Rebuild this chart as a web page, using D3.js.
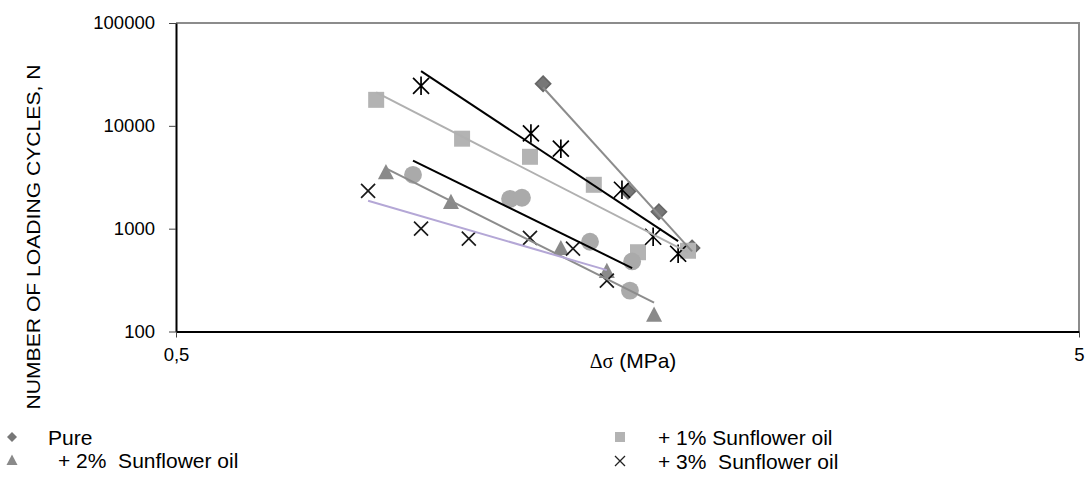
<!DOCTYPE html>
<html>
<head>
<meta charset="utf-8">
<script src="https://cdn.jsdelivr.net/npm/d3@7"></script>
<style>
  body { margin: 0; background: #fff; }
  text { font-family: "Liberation Sans", Arial, sans-serif; fill: #000; white-space: pre; }
</style>
</head>
<body>
<script>
// Fatigue data, stress range (MPa) vs number of cycles N
var purePoints = [[1.275, 25700], [1.583, 2310], [1.713, 1460], [1.864, 650]];
var oil1Points = [[0.833, 17900], [1.037, 7500], [1.233, 5000], [1.451, 2670], [1.624, 590], [1.845, 610]];
var oil2Points = [[0.854, 3550], [1.008, 1830], [1.334, 650], [1.500, 390], [1.692, 146]];
var oil3Points = [[0.816, 2330], [0.934, 1000], [1.055, 800], [1.233, 815], [1.376, 640], [1.500, 313]];
var starPoints = [[0.934, 24500], [1.236, 8430], [1.334, 5990], [1.559, 2390], [1.688, 834], [1.799, 570]];
var dotPoints = [[0.915, 3340], [1.172, 1950], [1.208, 2000], [1.437, 746], [1.600, 480], [1.591, 250]];

var legendNames = ["Pure", "+ 1% Sunflower oil", "+ 2%  Sunflower oil", "+ 3%  Sunflower oil"];
var xTickValues = [0.5, 5];
var xTickLabels = ["0,5", "5"];
var yTickValues = [100, 1000, 10000, 100000];

var svgWidth = 1088;
var svgHeight = 485;

var svg = d3.select("body")
  .append("svg")
  .attr("width", svgWidth)
  .attr("height", svgHeight);

// plot area
var plot = { left: 176, right: 1079, top: 23, bottom: 331.5 };

var xScale = d3.scaleLog().domain([0.5, 5]).range([plot.left, plot.right]);
var yScale = d3.scaleLog().domain([100, 100000]).range([plot.bottom, plot.top]);

// frame: gray top/right, black axes
svg.append("path")
  .attr("d", `M${plot.left},${plot.top}H${plot.right}V${plot.bottom}`)
  .attr("fill", "none")
  .attr("stroke", "#8c8c8c")
  .attr("stroke-width", 2);

var leftAxis = d3.axisLeft(yScale)
  .tickValues(yTickValues)
  .tickFormat(d3.format("d"))
  .tickSizeInner(7)
  .tickSizeOuter(0)
  .tickPadding(14);

var bottomAxis = d3.axisBottom(xScale)
  .tickValues(xTickValues)
  .tickFormat((d, i) => xTickLabels[i])
  .tickSizeInner(6)
  .tickSizeOuter(0)
  .tickPadding(10);

var gy = svg.append("g")
  .attr("transform", `translate(${plot.left},0)`)
  .call(leftAxis);
var gx = svg.append("g")
  .attr("transform", `translate(0,${plot.bottom})`)
  .call(bottomAxis);

[gx, gy].forEach(function(g) {
  g.select(".domain").attr("stroke", "#000").attr("stroke-width", 2);
  g.selectAll(".tick line").attr("stroke", "#444").attr("stroke-width", 1);
  g.selectAll(".tick text")
    .attr("font-family", "Liberation Sans, Arial, sans-serif")
    .attr("font-size", 18.5)
    .attr("fill", "#000");
});

// axis titles
svg.append("text")
  .attr("transform", "translate(40,237) rotate(-90)")
  .attr("text-anchor", "middle")
  .attr("font-size", 17.5)
  .attr("textLength", 345)
  .attr("lengthAdjust", "spacingAndGlyphs")
  .text("NUMBER OF LOADING CYCLES, N");

var xTitle = svg.append("text")
  .attr("x", 633)
  .attr("y", 368)
  .attr("text-anchor", "middle")
  .attr("font-size", 21);
xTitle.append("tspan").attr("font-family", "Liberation Serif, serif").attr("font-size", 20).text("Δσ");
xTitle.append("tspan").text(" (MPa)");

// marker shapes
function diamond(r) { return `M0,${-r}L${r},0L0,${r}L${-r},0Z`; }
function square(r) { return `M${-r},${-r}H${r}V${r}H${-r}Z`; }
function triangle(r) { return `M0,${-r}L${r},${r * 0.9}H${-r}Z`; }
function cross(r) { return `M${-r},${-r}L${r},${r}M${-r},${r}L${r},${-r}`; }
function star(r) { return `M${-r},${-r}L${r},${r}M${-r},${r}L${r},${-r}M0,${-r * 1.15}V${r * 1.15}`; }

var series = [
  { data: purePoints, shape: diamond(7.5), fill: "#777", stroke: "#666", line: "#8c8c8c" },
  { data: oil1Points, shape: square(8), fill: "#b3b3b3", stroke: "none", line: "#b0b0b0" },
  { data: oil2Points, shape: triangle(8), fill: "#8a8a8a", stroke: "none", line: "#8c8c8c" },
  { data: oil3Points, shape: cross(7), fill: "none", stroke: "#1a1a1a", line: "#b4a7d6" },
  { data: starPoints, shape: star(8), fill: "none", stroke: "#000", line: "#000" },
  { data: dotPoints, shape: d3.symbol(d3.symbolCircle, 250)(), fill: "#aaa", stroke: "none", line: "#000" }
];

// power trendline (least squares in log-log), drawn over the data x-range
function powerFit(pts) {
  var lx = pts.map(p => Math.log10(p[0]));
  var ly = pts.map(p => Math.log10(p[1]));
  var mx = d3.mean(lx), my = d3.mean(ly);
  var sxy = d3.sum(lx, (v, i) => (v - mx) * (ly[i] - my));
  var sxx = d3.sum(lx, v => (v - mx) * (v - mx));
  var b = sxy / sxx;
  var a = my - b * mx;
  var ext = d3.extent(pts, p => p[0]);
  return ext.map(x => [x, Math.pow(10, a + b * Math.log10(x))]);
}

var line = d3.line()
  .x(d => xScale(d[0]))
  .y(d => yScale(d[1]));

series.forEach(function(s) {
  svg.append("g")
    .selectAll("path")
    .data(s.data)
    .enter()
    .append("path")
    .attr("d", s.shape)
    .attr("transform", d => `translate(${xScale(d[0])},${yScale(d[1])})`)
    .attr("fill", s.fill)
    .attr("stroke", s.stroke)
    .attr("stroke-width", 1.7);
});

series.forEach(function(s) {
  svg.append("path")
    .datum(powerFit(s.data))
    .attr("d", line)
    .attr("fill", "none")
    .attr("stroke", s.line)
    .attr("stroke-width", 2);
});

// legend
var legendItems = [
  { name: legendNames[0], x: 12, y: 437, tx: 36, shape: diamond(5), fill: "#777", stroke: "none" },
  { name: legendNames[1], x: 620, y: 437, tx: 38, shape: square(5), fill: "#b3b3b3", stroke: "none" },
  { name: legendNames[2], x: 12, y: 460, tx: 46, shape: triangle(5.5), fill: "#8a8a8a", stroke: "none" },
  { name: legendNames[3], x: 620, y: 461, tx: 38, shape: cross(5), fill: "none", stroke: "#222" }
];

var legend = svg.append("g")
  .selectAll("g")
  .data(legendItems)
  .enter()
  .append("g")
  .attr("transform", d => `translate(${d.x},${d.y})`);

legend.append("path")
  .attr("d", d => d.shape)
  .attr("fill", d => d.fill)
  .attr("stroke", d => d.stroke)
  .attr("stroke-width", 1.3);

legend.append("text")
  .attr("x", d => d.tx)
  .attr("y", 8)
  .attr("font-size", 21)
  .text(d => d.name);
</script>
</body>
</html>
